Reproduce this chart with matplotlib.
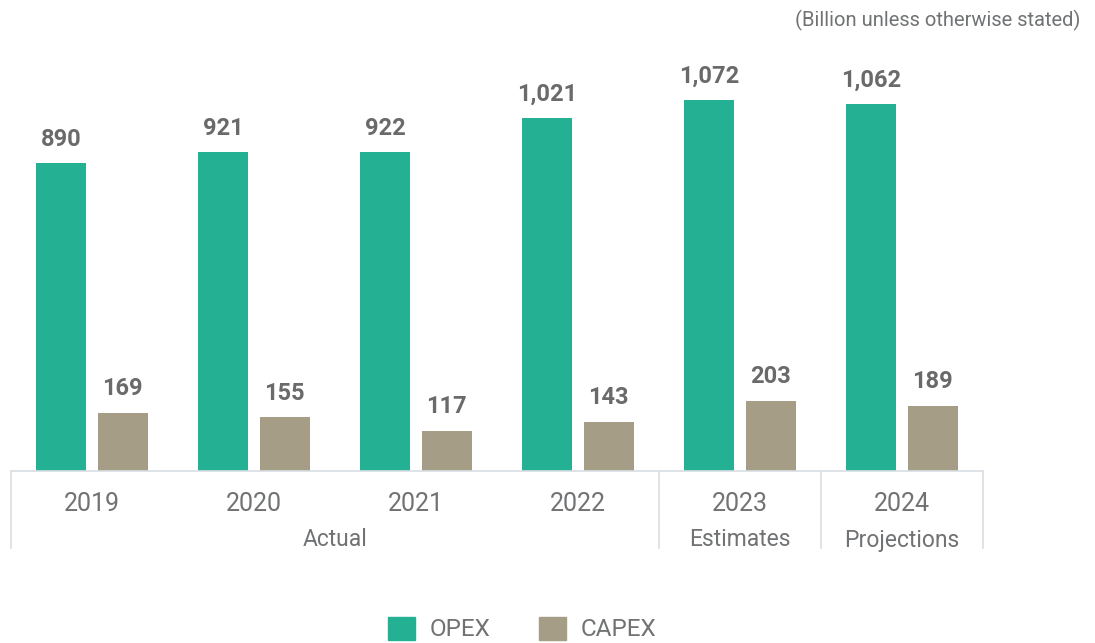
import matplotlib.pyplot as plt
from matplotlib.patches import Patch
import numpy as np

years = ["2019", "2020", "2021", "2022", "2023", "2024"]
opex = [890, 921, 922, 1021, 1072, 1062]
capex = [169, 155, 117, 143, 203, 189]
groups = ["Actual", "Estimates", "Projections"]
group_span = [(0, 3), (4, 4), (5, 5)]

opex_color = "#24b193"
capex_color = "#a59d86"
text_grey = "#707274"
label_grey = "#6a6a6a"
line_grey = "#d8dee3"

plt.rcParams['font.family'] = ['Roboto', 'DejaVu Sans']

fig = plt.figure(figsize=(10.95, 6.43), dpi=100)
ax = fig.add_axes([11 / 1095, 1 - 471 / 643, 972 / 1095, 411 / 643])

x = np.arange(len(years))
w = 0.31
off = 0.19
b1 = ax.bar(x - off, opex, w, color=opex_color, label="OPEX")
b2 = ax.bar(x + off, capex, w, color=capex_color, label="CAPEX")

for bars, vals in ((b1, opex), (b2, capex)):
    for r, v in zip(bars, vals):
        ax.text(r.get_x() + r.get_width() / 2, v + 50, f"{v:,}",
                ha="center", va="baseline", fontsize=17, fontweight="bold",
                color=label_grey)

ax.set_xlim(-0.5, len(years) - 0.5)
ax.set_ylim(0, 1188)
for s in ax.spines.values():
    s.set_visible(False)
ax.set_yticks([])
ax.set_xticks([])

# baseline and category separators
trans = ax.get_xaxis_transform()
ax.plot([-0.5, len(years) - 0.5], [0, 0], color=line_grey, lw=1.2,
        transform=trans, clip_on=False)
sep_bottom = -(548 - 471) / 411
for sx in (-0.5, 3.5, 4.5, 5.5):
    ax.plot([sx, sx], [0, sep_bottom], color=line_grey, lw=1.2,
            transform=trans, clip_on=False)

for i, y in enumerate(years):
    ax.text(i, -(504 - 471) / 411, y, transform=trans, ha="center", va="center",
            fontsize=18, color=text_grey)

for g, (a, b) in zip(groups, group_span):
    ax.text((a + b) / 2, -(540 - 471) / 411, g, transform=trans, ha="center",
            va="center", fontsize=16.5, color=text_grey)

fig.text(1080 / 1095, 1 - 20 / 643, "(Billion unless otherwise stated)",
         ha="right", va="center", fontsize=14.5, color=text_grey)

handles = [Patch(color=opex_color, label="OPEX"), Patch(color=capex_color, label="CAPEX")]
leg = fig.legend(handles=handles, loc="center", bbox_to_anchor=(522 / 1095, 1 - 629 / 643),
                 ncol=2, frameon=False, fontsize=17.5, handlelength=1.1, handleheight=1.1,
                 columnspacing=2.0, handletextpad=0.6)
for t in leg.get_texts():
    t.set_color(text_grey)

fig.savefig("out.png", dpi=100)
